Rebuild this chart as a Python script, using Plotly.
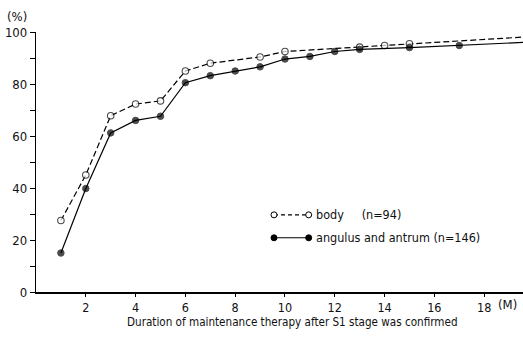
import plotly.graph_objects as go

# Months after S1 stage confirmation and cumulative rates (%)
body_months = [1, 2, 3, 4, 5, 6, 7, 9, 10, 13, 14, 15, 20]
body_rate = [27.5, 45.0, 67.8, 72.3, 73.5, 85.0, 88.0, 90.4, 92.5, 94.2, 94.8, 95.5, 98.3]
body_marked = [True] * 12 + [False]

antrum_months = [1, 2, 3, 4, 5, 6, 7, 8, 9, 10, 11, 12, 13, 15, 17, 20]
antrum_rate = [15.0, 39.8, 61.2, 66.0, 67.6, 80.5, 83.2, 85.0, 86.6, 89.6, 90.6, 92.5, 93.3, 94.0, 94.8, 96.2]
antrum_marked = [True] * 15 + [False]

x_ticks = [2, 4, 6, 8, 10, 12, 14, 16, 18]
y_ticks = [0, 20, 40, 60, 80, 100]

FONT = "DejaVu Sans Condensed, Liberation Sans Narrow, Arial Narrow, sans-serif"
W, H = 523, 343
L, R, T, B = 36, 0, 31.5, 51

fig = go.Figure()
fig.add_trace(go.Scatter(
    x=body_months, y=body_rate, mode="lines+markers",
    line=dict(color="black", width=1.2, dash="6px,3px"),
    marker=dict(symbol="circle", size=[6.5 if m else 0 for m in body_marked],
                color="white", line=dict(color="black", width=1.1)),
    showlegend=False, cliponaxis=True,
))
fig.add_trace(go.Scatter(
    x=antrum_months, y=antrum_rate, mode="lines+markers",
    line=dict(color="black", width=1.2),
    marker=dict(symbol="circle", size=[6.5 if m else 0 for m in antrum_marked],
                color="black", line=dict(color="black", width=1)),
    showlegend=False, cliponaxis=True,
))

pw, ph = W - L - R, H - T - B


def px_to_paper(px, py):
    return (px - L) / pw, (H - B - py) / ph


shapes = []
annotations = []
# Hand-drawn key: marker at both ends of a short line
for py, dash, fill, label in [
    (214.7, "4px,3px", "white", "body&nbsp;&nbsp;&nbsp;&nbsp;&nbsp;(n=94)"),
    (237.7, "solid", "black", "angulus and antrum (n=146)"),
]:
    x1, y1 = px_to_paper(274, py)
    x2, _ = px_to_paper(308.7, py)
    shapes.append(dict(type="line", xref="paper", yref="paper", x0=x1, x1=x2, y0=y1, y1=y1,
                       line=dict(color="black", width=1.1, dash=dash)))
    for xc in (x1, x2):
        shapes.append(dict(type="circle", xref="paper", yref="paper",
                           xsizemode="pixel", ysizemode="pixel", xanchor=xc, yanchor=y1,
                           x0=-3, x1=3, y0=-3, y1=3, fillcolor=fill,
                           line=dict(color="black", width=1)))
    tx, _ = px_to_paper(314, py)
    annotations.append(dict(xref="paper", yref="paper", x=tx, y=y1, text=label,
                            showarrow=False, xanchor="left", yanchor="middle",
                            font=dict(family=FONT, size=12.5, color="#111")))

ax, ay = px_to_paper(5, 16)
annotations.append(dict(xref="paper", yref="paper", x=ax, y=ay, text="(%)", showarrow=False,
                        xanchor="left", yanchor="middle",
                        font=dict(family=FONT, size=13, color="#111")))
mx, my = px_to_paper(496, 305)
annotations.append(dict(xref="paper", yref="paper", x=mx, y=my, text="(M)", showarrow=False,
                        xanchor="left", yanchor="middle",
                        font=dict(family=FONT, size=13, color="#111")))
tx, ty = px_to_paper(292.5, 322)
annotations.append(dict(xref="paper", yref="paper", x=tx, y=ty,
                        text="Duration of maintenance therapy after S1 stage was confirmed",
                        showarrow=False, xanchor="center", yanchor="middle",
                        font=dict(family=FONT, size=11.6, color="#111")))

fig.update_layout(
    width=W, height=H, margin=dict(l=L, r=R, t=T, b=B),
    paper_bgcolor="white", plot_bgcolor="white",
    shapes=shapes, annotations=annotations,
    font=dict(family=FONT, size=12.5, color="#111"),
    xaxis=dict(range=[0, 19.56], tickvals=x_ticks, ticks="outside", ticklen=3,
               tickwidth=1, tickcolor="black", showline=True, linecolor="black",
               linewidth=1.5, showgrid=False, zeroline=False,
               tickfont=dict(family=FONT, size=12.5, color="#111")),
    yaxis=dict(range=[0, 100], tickvals=y_ticks, ticks="outside", ticklen=5,
               tickwidth=1, tickcolor="black", showline=True, linecolor="black",
               linewidth=1.3, showgrid=False, zeroline=False,
               minor=dict(tickvals=[10, 30, 50, 70, 90], ticks="outside", ticklen=5,
                          tickwidth=1, tickcolor="black"),
               tickfont=dict(family=FONT, size=13, color="#111")),
)

fig.write_html("out.html")
